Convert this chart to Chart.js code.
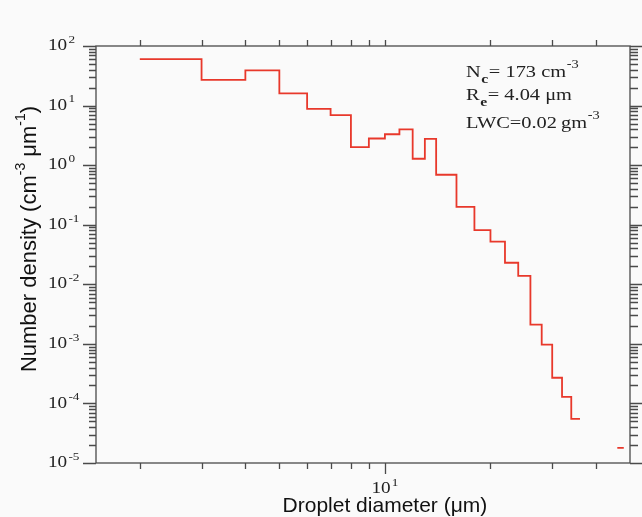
<!DOCTYPE html>
<html lang="en">
<head>
  <meta charset="UTF-8"/>
  <title>Droplet size distribution</title>
  <script src="https://cdn.jsdelivr.net/npm/chart.js"></script>
  <style>
    html, body { margin: 0; padding: 0; background: #fafafa; }
    #wrap { width: 642px; height: 517px; }
  </style>
</head>
<body>
  <div id="wrap"><canvas id="dsd" width="642" height="517"></canvas></div>
  <script>
    // bin edges (um) and number density per bin (cm^-3 um^-1)
    const binEdges = [2,3,4,5,6,7,8,9,10,11,12,13,14,16,18,20,22,24,26,28,30,32,34,36]
    const binDensity = [60,27,39,16,8.8,6.9,2.0,2.8,3.3,4.0,1.28,2.75,0.69,0.20,0.081,0.052,0.023,0.0138,0.0021,0.00097,0.00027,0.000129,0.000055]
    const tailEdges = [46, 48]
    const tailDensity = [1.8e-5]

    const xMajorTicks = [10]
    const xMinorTicks = [2,3,4,5,6,7,8,9,20,30,40]
    const yExponents = [2,1,0,-1,-2,-3,-4,-5]
    const yMinorFactors = [2,3,4,5,6,7,8,9]

    const noteLines = [
      [['N',0],['c',1],['= 173 cm',0],['-3',2]],
      [['R',0],['e',1],['= 4.04 \u03bcm',0]],
      [['LWC=0.02\u2009gm',0],['-3',2]]
    ]

    const pts = binDensity.map((v, i) => ({ x: binEdges[i], y: v }))
    pts.push({ x: binEdges[binEdges.length - 1], y: binDensity[binDensity.length - 1] })
    pts.push({ x: 40, y: null })
    pts.push({ x: tailEdges[0], y: tailDensity[0] }, { x: tailEdges[1], y: tailDensity[0] })

    const axisCol = '#4a4a4a'
    const serif = '"Liberation Serif", "Times New Roman", serif'
    const sans = '"Liberation Sans", Arial, sans-serif'

    // draws "10" with a raised exponent, stretched a little like the original
    function powText(ctx, x, y, exp, align) {
      const sx = 1.2
      ctx.save()
      ctx.font = '16px ' + serif
      const wb = ctx.measureText('10').width
      ctx.font = '11px ' + serif
      const we = ctx.measureText(String(exp)).width
      const tot = (wb + 1 + we) * sx
      let left = x
      if (align === 'center') left = x - tot / 2
      ctx.translate(left, y)
      ctx.scale(sx, 1)
      ctx.fillStyle = '#222'
      ctx.textBaseline = 'middle'
      ctx.textAlign = 'left'
      ctx.font = '16px ' + serif
      ctx.fillText('10', 0, 0)
      ctx.font = '11px ' + serif
      ctx.fillText(String(exp), wb + 1, -6)
      ctx.restore()
    }

    const frame = {
      id: 'frame',
      beforeDraw(chart) {
        const c = chart.ctx
        c.save()
        c.fillStyle = '#fafafa'
        c.fillRect(0, 0, chart.width, chart.height)
        c.restore()
      },
      afterDraw(chart) {
        const c = chart.ctx, a = chart.chartArea
        const xs = chart.scales.x, ys = chart.scales.y
        c.save()
        c.strokeStyle = axisCol
        c.lineWidth = 1.3
        c.strokeRect(a.left, a.top, a.right - a.left, a.bottom - a.top)
        c.beginPath()
        // x ticks: bottom and top, both outward
        xMinorTicks.concat(xMajorTicks).forEach(v => {
          const px = Math.round(xs.getPixelForValue(v)) + 0.5
          const len = xMajorTicks.includes(v) ? 11 : 6
          c.moveTo(px, a.bottom); c.lineTo(px, a.bottom + len)
          c.moveTo(px, a.top); c.lineTo(px, a.top - 6)
        })
        // y ticks, left and right
        yExponents.forEach(e => {
          const py = Math.round(ys.getPixelForValue(Math.pow(10, e))) + 0.5
          c.moveTo(a.left - 13, py); c.lineTo(a.left, py)
          c.moveTo(a.right, py); c.lineTo(a.right + 13, py)
          if (e > -5) {
            yMinorFactors.forEach(f => {
              const q = Math.round(ys.getPixelForValue(f * Math.pow(10, e - 1))) + 0.5
              c.moveTo(a.left - 7, q); c.lineTo(a.left, q)
              c.moveTo(a.right, q); c.lineTo(a.right + 8, q)
            })
          }
        })
        c.stroke()
        c.restore()

        // tick labels
        yExponents.forEach(e => powText(c, 48, ys.getPixelForValue(Math.pow(10, e)), e, 'left'))
        xMajorTicks.forEach(v => powText(c, xs.getPixelForValue(v), 489, Math.log10(v), 'center'))

        // x title
        c.save()
        c.fillStyle = '#111'
        c.font = '21px ' + sans
        c.textAlign = 'center'
        c.textBaseline = 'alphabetic'
        c.fillText('Droplet diameter (\u03bcm)', xs.getPixelForValue(10), 512)
        c.restore()

        // y title with superscripts, rotated
        const runs = [['Number density (cm', 22, 0], ['-3', 14, -9], [' \u03bcm', 22, 0], ['-1', 14, -9], [')', 22, 0]]
        c.save()
        c.translate(29, 239)
        c.rotate(-Math.PI / 2)
        c.fillStyle = '#111'
        c.textBaseline = 'middle'
        let tw = 0
        runs.forEach(r => { c.font = r[1] + 'px ' + sans; tw += c.measureText(r[0]).width })
        let cx = -tw / 2
        runs.forEach(r => {
          c.font = r[1] + 'px ' + sans
          c.fillText(r[0], cx, r[2] + 1)
          cx += c.measureText(r[0]).width
        })
        c.restore()

        // annotation block
        const baseY = [77, 100, 128]
        c.save()
        c.fillStyle = '#222'
        c.textBaseline = 'alphabetic'
        noteLines.forEach((line, i) => {
          c.save()
          c.translate(466, baseY[i])
          c.scale(1.2, 1)
          let px = 0
          line.forEach(([t, kind]) => {
            const size = kind === 0 ? 17 : kind === 1 ? 13 : 12
            const dy = kind === 1 ? 6 : kind === 2 ? -9 : 0
            c.font = (kind === 1 ? 'bold ' : '') + size + 'px ' + serif
            c.fillText(t, px, dy)
            px += c.measureText(t).width + 0.5
          })
          c.restore()
        })
        c.restore()
      }
    }

    new Chart(document.getElementById('dsd'), {
      type: 'line',
      data: {
        datasets: [{
          data: pts,
          stepped: 'before',
          borderColor: '#e8382b',
          borderWidth: 1.8,
          pointRadius: 0,
          fill: false,
          spanGaps: false
        }]
      },
      options: {
        responsive: false,
        animation: false,
        layout: { padding: { left: 96, top: 46, right: 12, bottom: 54 } },
        plugins: { legend: { display: false }, tooltip: { enabled: false } },
        scales: {
          x: { type: 'logarithmic', min: 1.5, max: 50, display: false },
          y: { type: 'logarithmic', min: 1e-5, max: 100, display: false }
        }
      },
      plugins: [frame]
    })
  </script>
</body>
</html>
